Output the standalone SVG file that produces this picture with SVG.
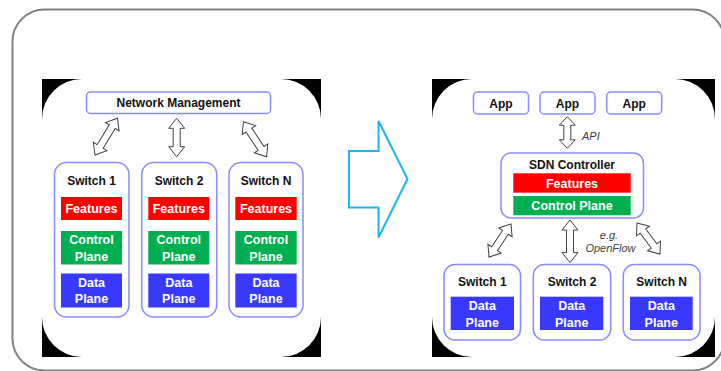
<svg xmlns="http://www.w3.org/2000/svg" width="721" height="371" viewBox="0 0 721 371">
<style>
.box{fill:#fff;stroke:#8c8cff;stroke-width:1.5}
.t{font-family:"Liberation Sans",Arial,sans-serif;font-size:12px;font-weight:bold;text-anchor:middle;fill:#111}
.w{font-family:"Liberation Sans",Arial,sans-serif;font-size:12.5px;font-weight:bold;text-anchor:middle;fill:#fff}
.i{font-family:"Liberation Sans",Arial,sans-serif;font-size:11px;font-style:italic;fill:#404040}
.red{fill:#ff0000}
.grn{fill:#00b050}
.blu{fill:#3838ff}
.arr{fill:#fff;stroke:#404040;stroke-width:1}
</style>
<rect x="12.5" y="9.5" width="712" height="361" rx="32" fill="#fff" stroke="#808080" stroke-width="2"/>
<g id="left-panel">
<rect x="42" y="79" width="279" height="278" fill="#000"/>
<rect x="42" y="79" width="279" height="278" rx="40" fill="#fff"/>
</g>
<g id="right-panel">
<rect x="432" y="79" width="283" height="278" fill="#000"/>
<rect x="432" y="79" width="283" height="278" rx="40" fill="#fff"/>
</g>
<g id="big-arrow">
<path d="M349,151 H378.5 V121 L407.5,179 L378.5,237.5 V207.5 H349 Z" fill="#fff" stroke="#1fb4ea" stroke-width="2"/>
</g>
<g id="connectors">
<path class="arr" transform="translate(106.2,136.6) rotate(-58.6)" d="M-21.6,0 L-11.6,-8 V-3.5 H11.6 V-8 L21.6,0 L11.6,8 V3.5 H-11.6 V8 Z"/>
<path class="arr" transform="translate(176.7,137.5) rotate(90)" d="M-19.2,0 L-9.2,-8 V-3.5 H9.2 V-8 L19.2,0 L9.2,8 V3.5 H-9.2 V8 Z"/>
<path class="arr" transform="translate(255,139.2) rotate(56.5)" d="M-21,0 L-11,-8 V-3.5 H11 V-8 L21,0 L11,8 V3.5 H-11 V8 Z"/>
<path class="arr" transform="translate(567.3,132.5) rotate(90)" d="M-15.8,0 L-7.3,-8 V-3.5 H7.3 V-8 L15.8,0 L7.3,8 V3.5 H-7.3 V8 Z"/>
<path class="arr" transform="translate(570,241.3) rotate(90)" d="M-21.3,0 L-11.3,-8 V-3.5 H11.3 V-8 L21.3,0 L11.3,8 V3.5 H-11.3 V8 Z"/>
<path class="arr" transform="translate(500,240.5) rotate(-56.3)" d="M-19.8,0 L-9.8,-8 V-3.5 H9.8 V-8 L19.8,0 L9.8,8 V3.5 H-9.8 V8 Z"/>
<path class="arr" transform="translate(648.5,238.5) rotate(53.4)" d="M-19.3,0 L-9.3,-8 V-3.5 H9.3 V-8 L19.3,0 L9.3,8 V3.5 H-9.3 V8 Z"/>
<text class="i" x="582" y="139.5">API</text>
<text class="i" x="609" y="239" text-anchor="middle">e.g.</text>
<text class="i" x="610.5" y="252" text-anchor="middle">OpenFlow</text>
</g>
<g id="network-management">
<rect class="box" x="86.5" y="92" width="184" height="21.5" rx="4"/>
<text class="t" x="178.5" y="107">Network Management</text>
</g>
<g id="left-switch-1">
<rect class="box" x="54.5" y="162.5" width="74.5" height="154.5" rx="12"/>
<text class="t" x="91.5" y="184.5">Switch 1</text>
<rect class="red" x="61" y="197" width="61" height="23"/>
<text class="w" x="91.5" y="213">Features</text>
<rect class="grn" x="61" y="231" width="61" height="33.5"/>
<text class="w" x="91.5" y="244.3">Control</text>
<text class="w" x="91.5" y="261">Plane</text>
<rect class="blu" x="61" y="273.5" width="61" height="34"/>
<text class="w" x="91.5" y="286.5">Data</text>
<text class="w" x="91.5" y="303.3">Plane</text>
</g>
<g id="left-switch-2">
<rect class="box" x="141.7" y="162.5" width="75" height="154.5" rx="12"/>
<text class="t" x="179" y="184.5">Switch 2</text>
<rect class="red" x="148.3" y="197" width="61" height="23"/>
<text class="w" x="178.8" y="213">Features</text>
<rect class="grn" x="148.3" y="231" width="61" height="33.5"/>
<text class="w" x="178.8" y="244.3">Control</text>
<text class="w" x="178.8" y="261">Plane</text>
<rect class="blu" x="148.3" y="273.5" width="61" height="34"/>
<text class="w" x="178.8" y="286.5">Data</text>
<text class="w" x="178.8" y="303.3">Plane</text>
</g>
<g id="left-switch-n">
<rect class="box" x="229" y="162.5" width="74" height="154.5" rx="12"/>
<text class="t" x="266" y="184.5">Switch N</text>
<rect class="red" x="235.3" y="197" width="61.4" height="23"/>
<text class="w" x="266" y="213">Features</text>
<rect class="grn" x="235.3" y="231" width="61.4" height="33.5"/>
<text class="w" x="266" y="244.3">Control</text>
<text class="w" x="266" y="261">Plane</text>
<rect class="blu" x="235.3" y="273.5" width="61.4" height="34"/>
<text class="w" x="266" y="286.5">Data</text>
<text class="w" x="266" y="303.3">Plane</text>
</g>
<g id="app-1">
<rect class="box" x="473.5" y="92" width="55" height="22" rx="4"/>
<text class="t" x="501" y="107.5">App</text>
</g>
<g id="app-2">
<rect class="box" x="540" y="92" width="55" height="22" rx="4"/>
<text class="t" x="567.5" y="107.5">App</text>
</g>
<g id="app-3">
<rect class="box" x="606.7" y="92" width="55" height="22" rx="4"/>
<text class="t" x="634.2" y="107.5">App</text>
</g>
<g id="sdn-controller">
<rect class="box" x="501" y="153" width="142.5" height="65" rx="10"/>
<text class="t" x="572" y="168.5">SDN Controller</text>
<rect class="red" x="513.3" y="173.3" width="117.4" height="19.4"/>
<text class="w" x="572" y="187.5">Features</text>
<rect class="grn" x="513.3" y="196" width="117.4" height="19.3"/>
<text class="w" x="572" y="210">Control Plane</text>
</g>
<g id="right-switch-1">
<rect class="box" x="444" y="264.5" width="76.5" height="75.5" rx="11"/>
<text class="t" x="482.3" y="286">Switch 1</text>
<rect class="blu" x="450.7" y="296.7" width="63.3" height="33.3"/>
<text class="w" x="482.3" y="310.3">Data</text>
<text class="w" x="482.3" y="327">Plane</text>
</g>
<g id="right-switch-2">
<rect class="box" x="533.3" y="264.5" width="77.4" height="75.5" rx="11"/>
<text class="t" x="572" y="286">Switch 2</text>
<rect class="blu" x="540" y="296.7" width="63.3" height="33.3"/>
<text class="w" x="571.7" y="310.3">Data</text>
<text class="w" x="571.7" y="327">Plane</text>
</g>
<g id="right-switch-n">
<rect class="box" x="623.3" y="264.5" width="76.7" height="75.5" rx="11"/>
<text class="t" x="661.7" y="286">Switch N</text>
<rect class="blu" x="630" y="296.7" width="62.7" height="33.3"/>
<text class="w" x="661.3" y="310.3">Data</text>
<text class="w" x="661.3" y="327">Plane</text>
</g>
</svg>
